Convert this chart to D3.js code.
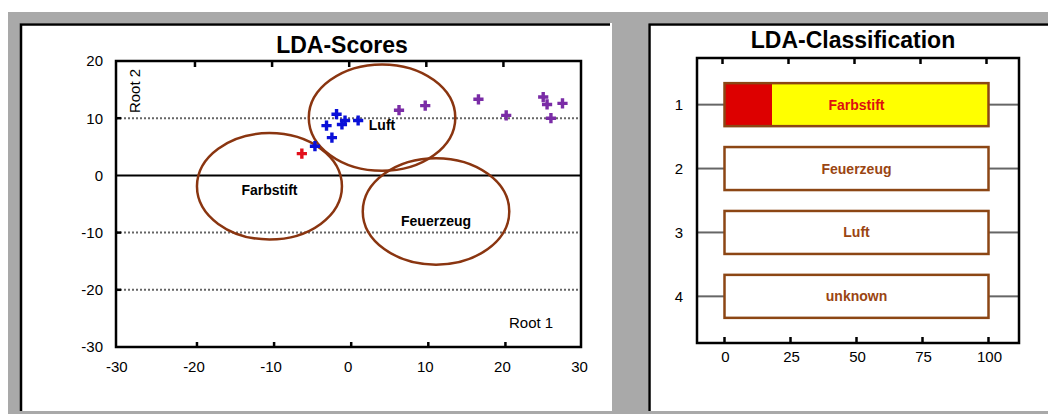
<!DOCTYPE html>
<html>
<head>
<meta charset="utf-8">
<script src="https://cdn.jsdelivr.net/npm/d3@7/dist/d3.min.js"></script>
<style>
  html, body { margin: 0; padding: 0; background: #fff; }
  svg { display: block; font-family: "Liberation Sans", Arial, sans-serif; }
</style>
</head>
<body>
<svg id="chart" width="1048" height="414"></svg>
<script>
// ---- LDA scores (root 1, root 2) per group ----
const farbstiftX = [-6.4];
const farbstiftY = [3.8];
const luftX = [-1.9, -3.2, -1.2, -0.8, 0.9, -2.5, -4.7];
const luftY = [10.7, 8.7, 8.9, 9.6, 9.6, 6.6, 5.1];
const unknownX = [6.2, 9.6, 16.5, 20.1, 24.9, 25.4, 25.9, 27.4];
const unknownY = [11.4, 12.2, 13.3, 10.5, 13.7, 12.4, 10.0, 12.6];

// ---- group ellipses (centre and radii in score units) ----
const groupNames = ["Farbstift", "Luft", "Feuerzeug"];
const groupCx = [-10.6, 4.0, 11.0];
const groupCy = [-1.9, 10.1, -6.3];
const groupRx = [9.4, 9.5, 9.5];
const groupRy = [9.3, 9.3, 9.3];
const groupLabelY = [-3.4, 7.9, -8.8];

const xTickLabels = [-30, -20, -10, 0, 10, 20, 30];
const xTickMarks = [-20, -10, 0, 10, 20];
const yTickLabels = [20, 10, 0, -10, -20, -30];
const yGridLines = [10, -10, -20];

// ---- classification (percent per row) ----
const classRows = [1, 2, 3, 4];
const classLabels = ["Farbstift", "Feuerzeug", "Luft", "unknown"];
const classRedShare = [18, 0, 0, 0];
const classYellowShare = [82, 0, 0, 0];
const classTicks = [0, 25, 50, 75, 100];

const svg = d3.select("#chart");

// panel backgrounds
svg.append("rect").attr("x", 8).attr("y", 12).attr("width", 1040).attr("height", 402).attr("fill", "#a9a9a9");
svg.append("rect").attr("x", 20).attr("y", 23).attr("width", 592).attr("height", 388).attr("fill", "#fff");
svg.append("rect").attr("x", 648).attr("y", 23).attr("width", 400).attr("height", 388).attr("fill", "#fff");
svg.append("path").attr("d", "M21,411V24.5H610").attr("fill", "none").attr("stroke", "#000").attr("stroke-width", 2.5);
svg.append("path").attr("d", "M649.5,411V24.5H1048").attr("fill", "none").attr("stroke", "#000").attr("stroke-width", 2.5);

// ================= LDA-Scores =================
const x = d3.scaleLinear().domain([-30.5, 29.8]).range([116, 581]);
const y = d3.scaleLinear().domain([-30, 20]).range([347, 61]);
const L = svg.append("g");

L.append("text").attr("x", 342).attr("y", 53).attr("text-anchor", "middle")
  .attr("font-size", 23).attr("font-weight", "bold").text("LDA-Scores");

// dotted reference lines
L.selectAll(".grid").data(yGridLines).join("line")
  .attr("x1", x.range()[0]).attr("x2", x.range()[1])
  .attr("y1", d => y(d)).attr("y2", d => y(d))
  .attr("stroke", "#666").attr("stroke-width", 2).attr("stroke-dasharray", "2,2");

// zero line
L.append("line").attr("x1", x.range()[0]).attr("x2", x.range()[1])
  .attr("y1", y(0)).attr("y2", y(0)).attr("stroke", "#000").attr("stroke-width", 2);

// inward tick marks
L.selectAll(".tb").data(xTickMarks).join("line")
  .attr("x1", d => x(d)).attr("x2", d => x(d))
  .attr("y1", y(-30)).attr("y2", y(-30) - 5).attr("stroke", "#000").attr("stroke-width", 2.5);
L.selectAll(".tt").data(xTickMarks).join("line")
  .attr("x1", d => x(d) - 2).attr("x2", d => x(d) - 2)
  .attr("y1", y(20)).attr("y2", y(20) + 6).attr("stroke", "#000").attr("stroke-width", 2.5);
L.selectAll(".tl").data(yGridLines).join("line")
  .attr("x1", x.range()[0]).attr("x2", x.range()[0] + 5)
  .attr("y1", d => y(d)).attr("y2", d => y(d)).attr("stroke", "#000").attr("stroke-width", 2.5);

// frame
L.append("rect").attr("x", x.range()[0]).attr("y", y(20))
  .attr("width", x.range()[1] - x.range()[0]).attr("height", y(-30) - y(20))
  .attr("fill", "none").attr("stroke", "#000").attr("stroke-width", 2.5);

// tick labels
L.selectAll(".xl").data(xTickLabels).join("text")
  .attr("x", d => x(d) - 3).attr("y", 372).attr("text-anchor", "middle")
  .attr("font-size", 15).text(d => d);
L.selectAll(".yl").data(yTickLabels).join("text")
  .attr("x", 103).attr("y", d => y(d)).attr("dy", "0.36em").attr("text-anchor", "end")
  .attr("font-size", 15).text(d => d);

L.append("text").attr("transform", "translate(140,91) rotate(-90)").attr("text-anchor", "middle")
  .attr("font-size", 15).text("Root 2");
L.append("text").attr("x", 509).attr("y", 328).attr("font-size", 15).text("Root 1");

// group ellipses
const ell = groupNames.map((n, i) => ({ n, cx: groupCx[i], cy: groupCy[i], rx: groupRx[i], ry: groupRy[i], ly: groupLabelY[i] }));
L.selectAll(".ell").data(ell).join("ellipse")
  .attr("cx", d => x(d.cx)).attr("cy", d => y(d.cy))
  .attr("rx", d => x(d.cx + d.rx) - x(d.cx)).attr("ry", d => y(d.cy - d.ry) - y(d.cy))
  .attr("fill", "none").attr("stroke", "#8a3510").attr("stroke-width", 2.5);
L.selectAll(".ellLab").data(ell).join("text")
  .attr("x", d => x(d.cx)).attr("y", d => y(d.ly)).attr("text-anchor", "middle")
  .attr("font-size", 14).attr("font-weight", "bold").text(d => d.n);

// score points
const cross = d3.symbol().type(d3.symbolCross).size(58);
function drawPoints(xs, ys, color) {
  L.append("g").selectAll("path").data(xs.map((v, i) => [v, ys[i]])).join("path")
    .attr("transform", d => `translate(${x(d[0])},${y(d[1])})`)
    .attr("d", cross).attr("fill", color);
}
drawPoints(unknownX, unknownY, "#7a2ca6");
drawPoints(luftX, luftY, "#0a10d8");
drawPoints(farbstiftX, farbstiftY, "#e2101c");

// ================= LDA-Classification =================
const R = svg.append("g");
const xr = d3.scaleLinear().domain([0, 100]).range([724.5, 988.5]);
const fr = { x0: 697, x1: 1019, y0: 58, y1: 343 };
const yr = d3.scalePoint().domain(classRows).range([fr.y0, fr.y1]).padding(0.73);
const barH = 43;

R.append("text").attr("x", 853).attr("y", 48).attr("text-anchor", "middle")
  .attr("font-size", 23).attr("font-weight", "bold").text("LDA-Classification");

// whiskers
R.selectAll(".wl").data(classRows).join("line")
  .attr("x1", fr.x0).attr("x2", xr(0)).attr("y1", d => yr(d)).attr("y2", d => yr(d))
  .attr("stroke", "#666").attr("stroke-width", 2);
R.selectAll(".wr").data(classRows).join("line")
  .attr("x1", xr(100)).attr("x2", fr.x1).attr("y1", d => yr(d)).attr("y2", d => yr(d))
  .attr("stroke", "#666").attr("stroke-width", 2);

// bars
const rows = classRows.map((r, i) => ({ r, label: classLabels[i], red: classRedShare[i], yellow: classYellowShare[i] }));
const rg = R.selectAll(".row").data(rows).join("g");
rg.append("rect").attr("x", xr(0)).attr("y", d => yr(d.r) - barH / 2)
  .attr("width", xr(100) - xr(0)).attr("height", barH).attr("fill", "#fff");
rg.filter(d => d.red > 0).append("rect").attr("x", xr(0)).attr("y", d => yr(d.r) - barH / 2)
  .attr("width", d => xr(d.red) - xr(0)).attr("height", barH).attr("fill", "#dd0000");
rg.filter(d => d.yellow > 0).append("rect").attr("x", d => xr(d.red)).attr("y", d => yr(d.r) - barH / 2)
  .attr("width", d => xr(d.red + d.yellow) - xr(d.red)).attr("height", barH).attr("fill", "#ffff00");
rg.append("rect").attr("x", xr(0)).attr("y", d => yr(d.r) - barH / 2)
  .attr("width", xr(100) - xr(0)).attr("height", barH)
  .attr("fill", "none").attr("stroke", "#8c4614").attr("stroke-width", 2.5);
rg.append("text").attr("x", xr(50)).attr("y", d => yr(d.r)).attr("dy", "0.36em")
  .attr("text-anchor", "middle").attr("font-size", 14).attr("font-weight", "bold")
  .attr("fill", d => d.red > 0 ? "#dd1010" : "#9a4512").text(d => d.label);

// ticks
R.selectAll(".rtb").data(classTicks).join("line")
  .attr("x1", d => xr(d)).attr("x2", d => xr(d)).attr("y1", fr.y1).attr("y2", fr.y1 - 6)
  .attr("stroke", "#000").attr("stroke-width", 2.5);
R.selectAll(".rtt").data(classTicks).join("line")
  .attr("x1", d => xr(d) - 2).attr("x2", d => xr(d) - 2).attr("y1", fr.y0).attr("y2", fr.y0 + 6)
  .attr("stroke", "#000").attr("stroke-width", 2.5);

// frame
R.append("rect").attr("x", fr.x0).attr("y", fr.y0).attr("width", fr.x1 - fr.x0).attr("height", fr.y1 - fr.y0)
  .attr("fill", "none").attr("stroke", "#000").attr("stroke-width", 2.5);

R.selectAll(".rxl").data(classTicks).join("text")
  .attr("x", d => xr(d) + 1).attr("y", 362).attr("text-anchor", "middle").attr("font-size", 15).text(d => d);
R.selectAll(".ryl").data(classRows).join("text")
  .attr("x", 679).attr("y", d => yr(d)).attr("dy", "0.36em").attr("text-anchor", "middle")
  .attr("font-size", 15).text(d => d);
</script>
</body>
</html>
